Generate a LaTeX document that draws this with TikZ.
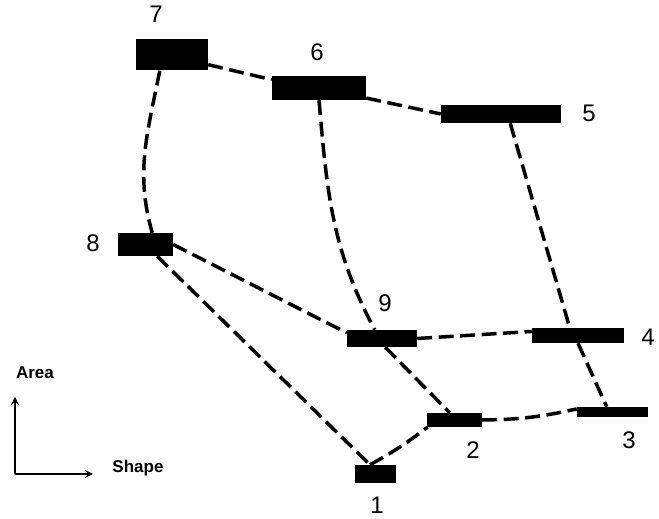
\documentclass[tikz,border=0pt]{standalone}
\usepackage{fontspec}
\setmainfont{Liberation Sans}
\usetikzlibrary{arrows}

\tikzset{
  bar/.style={fill=black,draw=none,rectangle,inner sep=0pt},
  link/.style={line width=3.5pt,dash pattern=on 15pt off 6.5pt},
  num/.style={font=\fontsize{24}{24}\selectfont,inner sep=0pt},
  axislabel/.style={font=\bfseries\fontsize{17}{17}\selectfont,inner sep=0pt},
}

\begin{document}
\begin{tikzpicture}[x=1pt,y=1pt]
\useasboundingbox (0,0) rectangle (659,519);
% the bars
\node[bar,minimum width=72pt,minimum height=31pt] (b7) at (172,464) {};
\node[bar,minimum width=94pt,minimum height=24pt] (b6) at (319,431) {};
\node[bar,minimum width=120pt,minimum height=18pt] (b5) at (501,405) {};
\node[bar,minimum width=55pt,minimum height=23pt] (b8) at (145.5,274.5) {};
\node[bar,minimum width=70pt,minimum height=17pt] (b9) at (382,180.5) {};
\node[bar,minimum width=92pt,minimum height=15pt] (b4) at (578,183.5) {};
\node[bar,minimum width=55pt,minimum height=14pt] (b2) at (454.5,99) {};
\node[bar,minimum width=71pt,minimum height=10pt] (b3) at (612.5,107) {};
\node[bar,minimum width=41pt,minimum height=18pt] (b1) at (375.5,45) {};
% the numbers
\node[num] (n7) at (156,505) {7};
\node[num] (n6) at (317,467) {6};
\node[num] (n5) at (589,406) {5};
\node[num] (n8) at (93,276) {8};
\node[num] (n9) at (385,216) {9};
\node[num] (n4) at (648,182) {4};
\node[num] (n2) at (473,69) {2};
\node[num] (n3) at (629,79) {3};
\node[num] (n1) at (377,14) {1};
% the dashed links
\draw[link] (b7.-15) -- (b6.170);
\draw[link] (b6.-12) -- (b5.west);
\draw[link] (b7.-128) to[out=-101,in=106] (b8.60);
\draw[link] (b6.south) to[out=-85,in=118] (b9.130);
\draw[link] (b9.-70) -- (b2.123);
\draw[link] (b8.east) -- (b9.171);
\draw[link] (b8.-45) -- (b1.121);
\draw[link] (b1.121) to[bend right=4] (b2.195);
\draw[link] (b2.east) to[bend right=6] (b3.175);
\draw[link] (b9.east) -- (b4.175);
\draw[link] (b5.-45) -- (b4.137);
\draw[link] (b4.south) -- (b3.138);
% the axes
\coordinate (o) at (15,45);
\coordinate (up) at (15,122);
\coordinate (right) at (93,45);
\draw[line width=2.4pt,-stealth] (o) -- (up);
\draw[line width=2.4pt,-stealth] (o) -- (right);
\node[axislabel] (area) at (35,146) {Area};
\node[axislabel] (shape) at (138,51) {Shape};
\end{tikzpicture}
\end{document}
